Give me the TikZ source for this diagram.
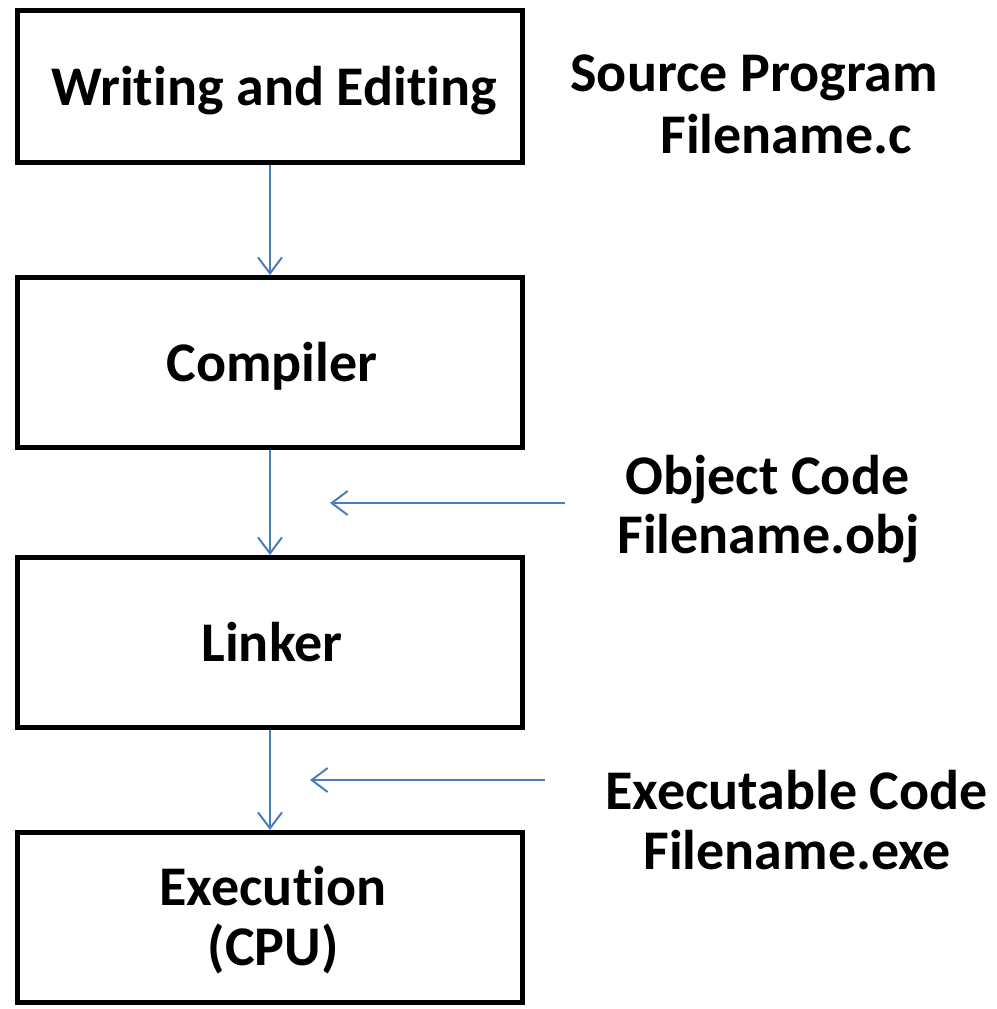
\documentclass[tikz,border=0pt]{standalone}
\usepackage{fontspec}
\setmainfont{Carlito}[Ligatures=NoCommon]
\usetikzlibrary{arrows.meta}
\definecolor{arrowblue}{HTML}{4A7EBB}
\tikzset{
  stagebox/.style={draw=black, line width=2.5pt, fill=white, minimum width=252.5pt, minimum height=85pt, inner sep=0pt, align=center, font=\lbl},
  lbltext/.style={anchor=base west, inner sep=0pt, font=\lbl},
  flow/.style={draw=arrowblue, line width=1pt, -{Straight Barb[length=8pt,width=12pt,line width=1pt]}}
}
\newcommand{\lbl}{\fontsize{28}{31}\selectfont\bfseries}
\begin{document}
\begin{tikzpicture}[x=0.5pt,y=-0.5pt]
\useasboundingbox (0,0) rectangle (997,1009);
\node[stagebox, minimum height=76pt] (b1) at (270,86.5) {};
\node[stagebox] (b2) at (270,362.5) {};
\node[stagebox] (b3) at (270,642.5) {};
\node[stagebox] (b4) at (270,917.5) {};
\node[lbltext, anchor=base] (t1) at (274,105) {Writing and Editing};
\node[lbltext, anchor=base] (t2) at (272,381) {Compiler};
\node[lbltext, anchor=base] (t3) at (272,661) {Linker};
\node[lbltext, anchor=base] (t4a) at (273,905) {Execution};
\node[lbltext, anchor=base] (t4b) at (273,965) {(CPU)};
\draw[flow] (b1.south) -- (b2.north);
\draw[flow] (b2.south) -- (b3.north);
\draw[flow] (b3.south) -- (b4.north);
\coordinate (o1s) at (565,503);
\coordinate (o1e) at (330,503);
\coordinate (e1s) at (545,780);
\coordinate (e1e) at (310,780);
\draw[flow] (o1s) -- (o1e);
\draw[flow] (e1s) -- (e1e);
\node[lbltext] (s1) at (570,91) {Source Program};
\node[lbltext] (s2) at (660,153) {Filename.c};
\node[lbltext] (ob1) at (625,494) {Object Code};
\node[lbltext] (ob2) at (617,553) {Filename.obj};
\node[lbltext] (ex1) at (605,809) {Executable Code};
\node[lbltext] (ex2) at (643,869) {Filename.exe};
\end{tikzpicture}
\end{document}
